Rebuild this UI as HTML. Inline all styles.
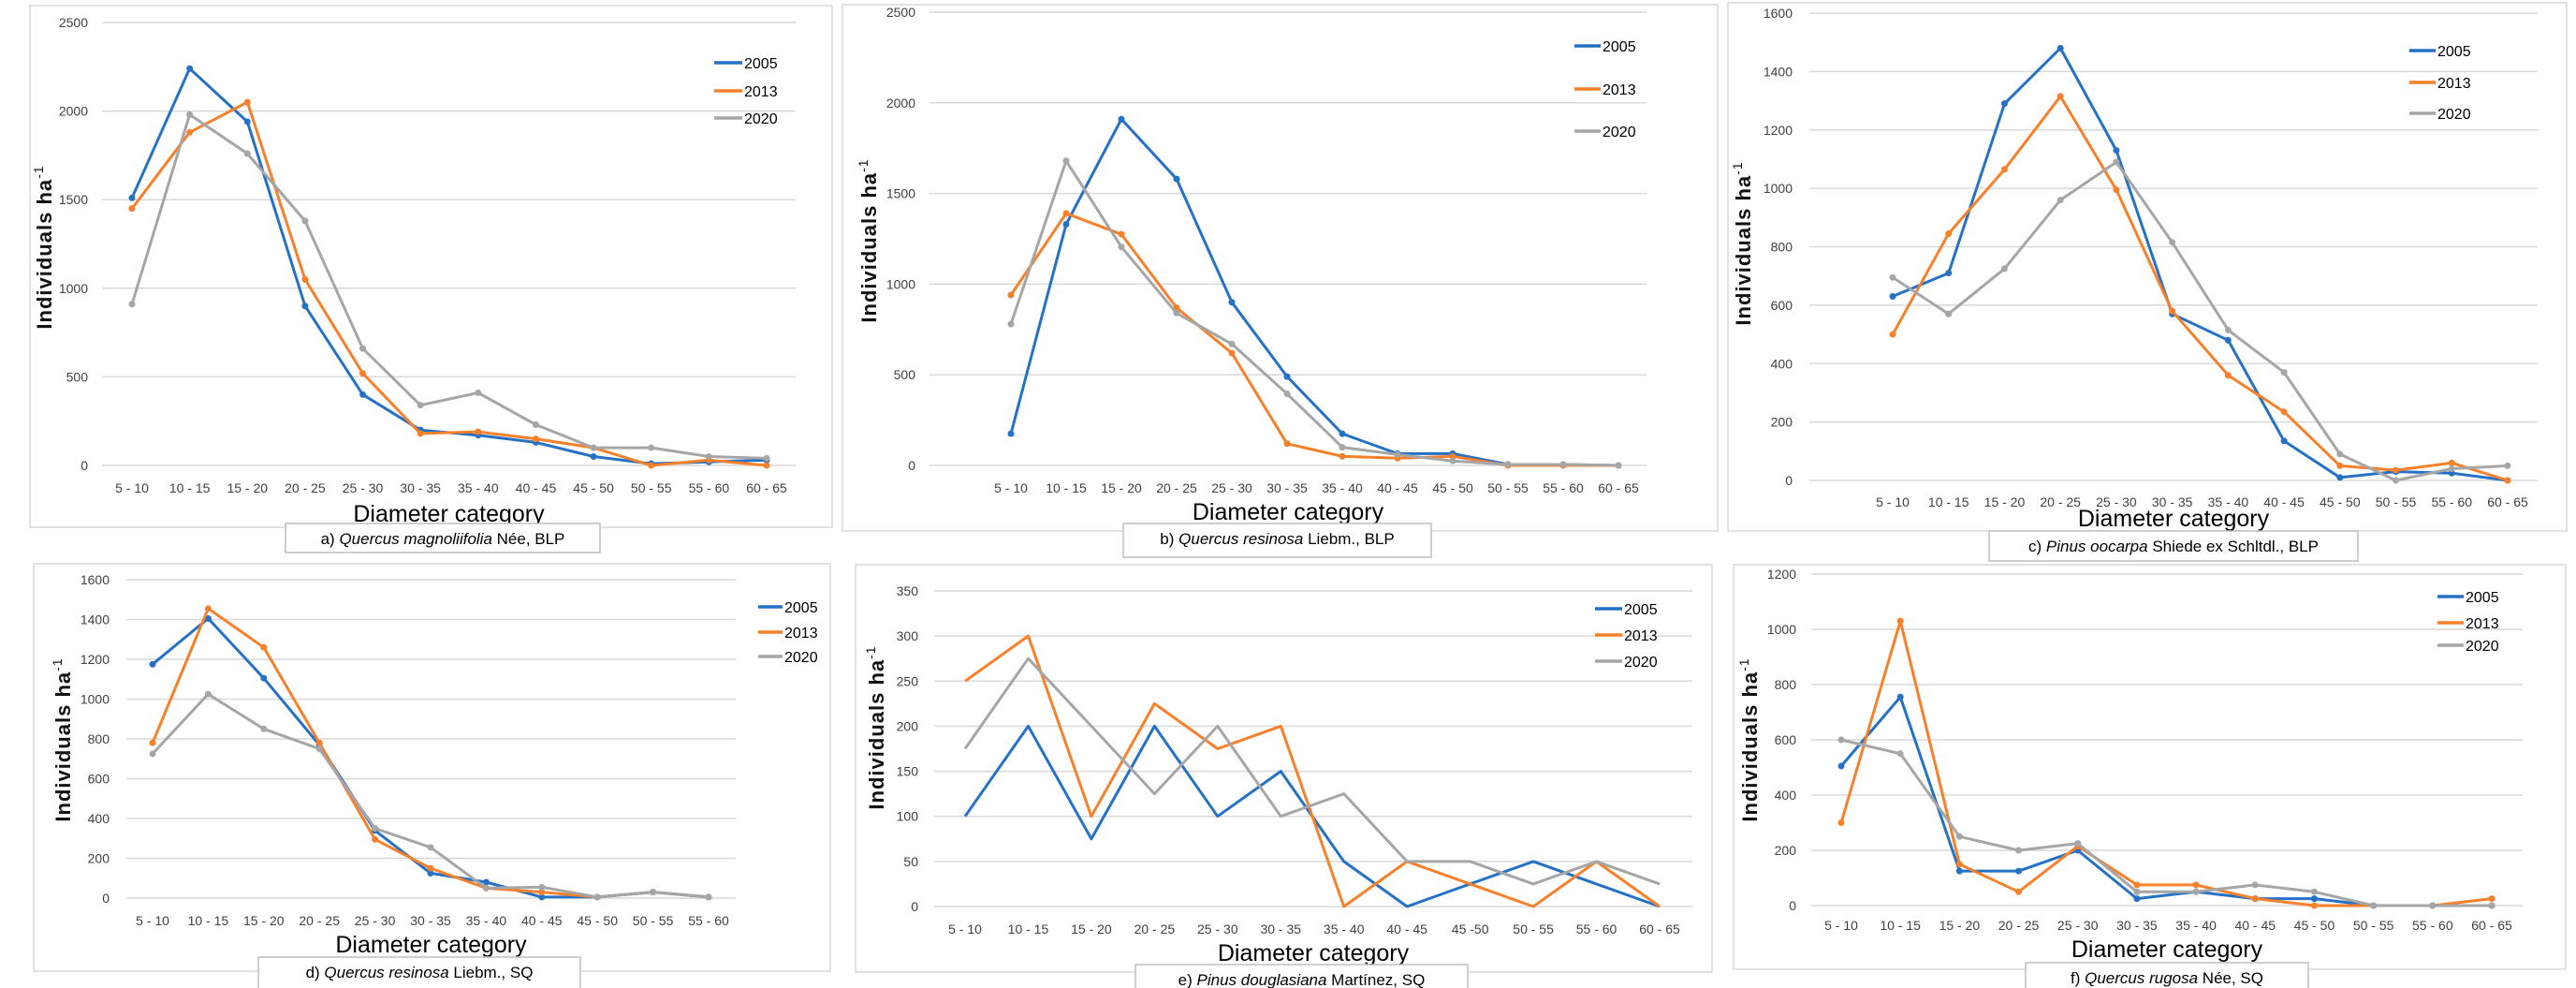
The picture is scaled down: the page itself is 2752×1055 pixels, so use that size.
<!DOCTYPE html>
<html><head><meta charset="utf-8"><style>
html,body{margin:0;padding:0;background:#fff;}
svg{display:block;font-family:"Liberation Sans",sans-serif;}
</style></head><body>
<svg id="fig" width="2752" height="1055" viewBox="0 0 2752 1055" xmlns="http://www.w3.org/2000/svg"></svg>
<script>
const years = ["2005","2013","2020"];
const catsA = ["5 - 10","10 - 15","15 - 20","20 - 25","25 - 30","30 - 35","35 - 40","40 - 45","45 - 50","50 - 55","55 - 60","60 - 65"];
const catsD = ["5 - 10","10 - 15","15 - 20","20 - 25","25 - 30","30 - 35","35 - 40","40 - 45","45 - 50","50 - 55","55 - 60"];
const catsE = ["5 - 10","10 - 15","15 - 20","20 - 25","25 - 30","30 - 35","35 - 40","40 - 45","45 -50","50 - 55","55 - 60","60 - 65"];
const ticksA = [0,500,1000,1500,2000,2500];
const ticksC = [0,200,400,600,800,1000,1200,1400,1600];
const ticksE = [0,50,100,150,200,250,300,350];
const ticksF = [0,200,400,600,800,1000,1200];
const a2005 = [1510,2240,1940,900,400,200,170,130,50,10,20,30];
const a2013 = [1450,1880,2050,1050,520,180,190,150,100,0,30,0];
const a2020 = [910,1980,1760,1380,660,340,410,230,100,100,50,40];
const b2005 = [175,1330,1910,1580,900,490,175,65,65,5,5,0];
const b2013 = [940,1390,1275,870,620,120,50,40,50,0,0,0];
const b2020 = [780,1680,1205,840,670,395,100,60,25,5,5,0];
const c2005 = [630,710,1290,1480,1130,570,480,135,10,30,25,0];
const c2013 = [500,845,1065,1315,995,580,360,235,50,35,60,0];
const c2020 = [695,570,725,960,1090,815,515,370,90,0,40,50];
const d2005 = [1175,1405,1105,770,340,125,80,5,5,30,5];
const d2013 = [780,1455,1260,780,295,150,50,30,5,30,5];
const d2020 = [725,1025,850,750,350,255,50,55,5,30,5];
const e2005 = [100,200,75,200,100,150,50,0,25,50,25,0];
const e2013 = [250,300,100,225,175,200,0,50,25,0,50,0];
const e2020 = [175,275,200,125,200,100,125,50,50,25,50,25];
const f2005 = [505,755,125,125,200,25,50,25,25,0,0,0];
const f2013 = [300,1030,150,50,215,75,75,25,0,0,0,25];
const f2020 = [600,550,250,200,225,50,50,75,50,0,0,0];

const colors = ["#2571c6","#f7802a","#a6a6a6"];
const NS = "http://www.w3.org/2000/svg";
const svg = document.getElementById("fig");
function mk(tag, attrs, parent){
  const e = document.createElementNS(NS, tag);
  for (const k in attrs) e.setAttribute(k, attrs[k]);
  (parent||svg).appendChild(e);
  return e;
}

const panels = [
 {id:"a", cats:catsA, ticks:ticksA, series:[a2005,a2013,a2020], markers:true,
  box:[32,6,889,563], gx:[109,850], gy:[497,24], cx:[141,819], tickY:521, titleY:548,
  cap:[305,559,641,590], capPre:"a) ", capIt:"Quercus magnoliifolia", capPost:" Née, BLP",
  leg:[763,793,[67,97,126]], yTickR:94, yTitle:[47,264]},
 {id:"b", cats:catsA, ticks:ticksA, series:[b2005,b2013,b2020], markers:true,
  box:[900,5,1835,567], gx:[993,1759], gy:[497,13], cx:[1080,1729], tickY:521, titleY:546,
  cap:[1200,559,1529,595], capPre:"b) ", capIt:"Quercus resinosa", capPost:" Liebm., BLP",
  leg:[1682,1710,[49,95,140]], yTickR:978, yTitle:[928,257]},
 {id:"c", cats:catsA, ticks:ticksC, series:[c2005,c2013,c2020], markers:true,
  box:[1846,3,2742,567], gx:[1933,2711], gy:[513,14], cx:[2022,2679], tickY:536, titleY:553,
  cap:[2125,567,2519,599], capPre:"c) ", capIt:"Pinus oocarpa", capPost:" Shiede ex Schltdl., BLP",
  leg:[2574,2602,[54,88,121]], yTickR:1915, yTitle:[1862,260]},
 {id:"d", cats:catsD, ticks:ticksC, series:[d2005,d2013,d2020], markers:true,
  box:[36,602,887,1037], gx:[135,786], gy:[959,619], cx:[163,757], tickY:983, titleY:1008,
  cap:[276,1022,620,1058], capPre:"d) ", capIt:"Quercus resinosa", capPost:" Liebm., SQ",
  leg:[810,836,[648,675,701]], yTickR:117, yTitle:[67,790]},
 {id:"e", cats:catsE, ticks:ticksE, series:[e2005,e2013,e2020], markers:false,
  box:[914,603,1829,1038], gx:[998,1808], gy:[968,631], cx:[1031,1773], tickY:992, titleY:1017,
  cap:[1213,1030,1568,1058], capPre:"e) ", capIt:"Pinus douglasiana", capPost:" Martínez, SQ",
  leg:[1704,1733,[650,678,706]], yTickR:981, yTitle:[936,777]},
 {id:"f", cats:catsA, ticks:ticksF, series:[f2005,f2013,f2020], markers:true,
  box:[1852,603,2741,1035], gx:[1935,2695], gy:[967,613], cx:[1967,2662], tickY:988, titleY:1013,
  cap:[2164,1028,2466,1058], capPre:"f) ", capIt:"Quercus rugosa", capPost:" Née, SQ",
  leg:[2604,2632,[637,665,689]], yTickR:1919, yTitle:[1869,790]}
];

panels.forEach(p => {
  const g = mk("g", {});
  
  
  const frame = mk("rect", {x:p.box[0], y:p.box[1], width:p.box[2]-p.box[0], height:p.box[3]-p.box[1], fill:"#fff", stroke:"#d9d9d9", "stroke-width":1.5}, g);
  
  
  const tmax = p.ticks[p.ticks.length-1];
  const yS = v => p.gy[0] + (p.gy[1]-p.gy[0]) * v / tmax;
  const n = p.cats.length;
  const xS = i => p.cx[0] + (p.cx[1]-p.cx[0]) * i / (n-1);
  p.ticks.forEach(t => {
    const ln = mk("line", {x1:p.gx[0], x2:p.gx[1], y1:yS(t), y2:yS(t), stroke:"#d9d9d9", "stroke-width":1.5}, g);
    
    
    const tx = mk("text", {x:p.yTickR, y:yS(t)+5, "text-anchor":"end", "font-size":14, fill:"#404040"}, g);
    tx.textContent = t;
    
    
  });
  p.cats.forEach((c,i) => {
    const tx = mk("text", {x:xS(i), y:p.tickY+5, "text-anchor":"middle", "font-size":14, fill:"#404040"}, g);
    tx.textContent = c;
    
    
  });
  const xt = mk("text", {x:(p.gx[0]+p.gx[1])/2, y:p.titleY+9, "text-anchor":"middle", "font-size":25, fill:"#000"}, g);
  xt.textContent = "Diameter category";
  
  
  const yt = mk("text", {x:0, y:0, "text-anchor":"middle", "font-size":22, "font-weight":"bold", "letter-spacing":1, fill:"#111", transform:`translate(${p.yTitle[0]+8},${p.yTitle[1]}) rotate(-90)`}, g);
  
  
  yt.appendChild(document.createTextNode("Individuals ha"));
  const sup = mk("tspan", {dy:-9, "font-size":14, "font-weight":"normal"}, yt);
  sup.textContent = "-1";
  p.series.forEach((vals, si) => {
    const pts = vals.map((v,i) => xS(i).toFixed(1)+","+yS(v).toFixed(1)).join(" ");
    const pl = mk("polyline", {points:pts, fill:"none", stroke:colors[si], "stroke-width":3, "stroke-linejoin":"round"}, g);
    
    
    if (p.markers) vals.forEach((v,i) => {
      const m = mk("circle", {cx:xS(i), cy:yS(v), r:3.5, fill:colors[si]}, g);
      
      
    });
    const ly = p.leg[2][si];
    const ll = mk("line", {x1:p.leg[0], x2:p.leg[1], y1:ly, y2:ly, stroke:colors[si], "stroke-width":3.5}, g);
    
    
    const lt = mk("text", {x:p.leg[1]+2, y:ly+6, "font-size":16, fill:"#000"}, g);
    lt.textContent = years[si];
    
    
  });
  const cr = mk("rect", {x:p.cap[0], y:p.cap[1], width:p.cap[2]-p.cap[0], height:p.cap[3]-p.cap[1], fill:"#fff", stroke:"#bfbfbf", "stroke-width":1.5}, g);
  
  
  const ct = mk("text", {x:(p.cap[0]+p.cap[2])/2, y:p.cap[1]+22, "text-anchor":"middle", "font-size":17, fill:"#000"}, g);
  
  
  ct.appendChild(document.createTextNode(p.capPre));
  const it = mk("tspan", {"font-style":"italic"}, ct);
  it.textContent = p.capIt;
  ct.appendChild(document.createTextNode(p.capPost));
});
</script>
</body></html>
